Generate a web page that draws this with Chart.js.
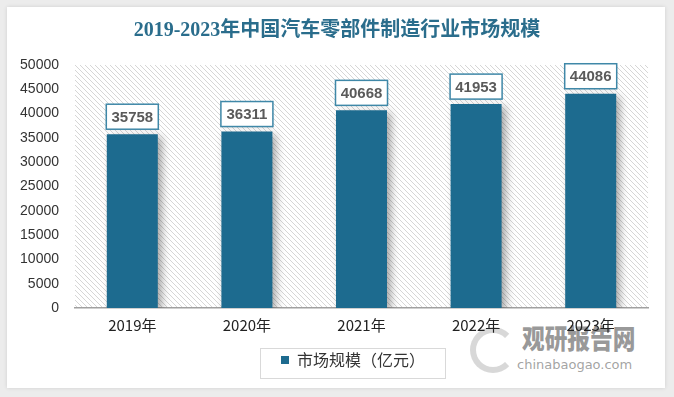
<!DOCTYPE html>
<html>
<head>
<meta charset="utf-8">
<script src="https://cdn.jsdelivr.net/npm/chart.js@4"></script>
<style>
    body { margin: 0; background: #ececec; }
    #wrap { position: relative; width: 674px; height: 397px; overflow: hidden; }
    #card { position: absolute; left: 7px; top: 7px; width: 658px; height: 381px; background: #fff;
            box-shadow: 0 0 4px rgba(0, 0, 0, 0.12); }
    #mark { position: absolute; left: 470px; top: 319px; color: rgba(120, 120, 120, 0.75);
            font-family: "Noto Sans CJK SC", sans-serif; }
    #mark .cn { position: absolute; left: 52px; top: 0; font-size: 27px; line-height: 38px; font-weight: 900; white-space: nowrap;
                transform: scaleX(0.84); transform-origin: left top; }
    #mark .en { position: absolute; left: 47px; top: 37px; font-size: 13px; line-height: 18px; white-space: nowrap;
                font-family: "DejaVu Sans", sans-serif; color: rgba(140, 140, 140, 0.8); }
    #mark .logo { position: absolute; left: 0; top: 8px; width: 34px; height: 34px; border-radius: 50%;
                  border: 6px solid rgba(190, 190, 190, 0.6); border-right-color: transparent; }
    canvas { position: absolute; left: 0; top: 0; }
</style>
</head>
<body>
<div id="wrap">
    <div id="card"></div>
    <div id="mark"><div class="logo"></div><div class="cn">观研报告网</div><div class="en">chinabaogao.com</div></div>
    <canvas id="chart" width="674" height="397"></canvas>
</div>
<script>
"use strict";

// Data
const years = ['2019年', '2020年', '2021年', '2022年', '2023年'];
const marketSize = [35758, 36311, 40668, 41953, 44086];
const yTicks = [0, 5000, 10000, 15000, 20000, 25000, 30000, 35000, 40000, 45000, 50000];

const barColor = '#1d6b8f';
const cjk = '"Noto Sans CJK SC", sans-serif';

// Diagonal hatch for the plot background
function makeHatch() {
    const c = document.createElement('canvas');
    c.width = 5;
    c.height = 5;
    const g = c.getContext('2d');
    g.fillStyle = '#ffffff';
    g.fillRect(0, 0, 5, 5);
    g.strokeStyle = '#d6d6d6';
    g.lineWidth = 1;
    g.beginPath();
    g.moveTo(-1, -1); g.lineTo(6, 6);
    g.moveTo(-1, 4); g.lineTo(1, 6);
    g.moveTo(4, -1); g.lineTo(6, 1);
    g.stroke();
    return g.createPattern(c, 'repeat');
}

const hatchBackground = {
    id: 'hatchBackground',
    beforeDraw(chart) {
        const a = chart.chartArea;
        const ctx = chart.ctx;
        ctx.save();
        ctx.fillStyle = makeHatch();
        ctx.fillRect(a.left, a.top, a.right - a.left, a.bottom - a.top);
        ctx.restore();
    }
};

// Soft shadow behind the bars
const barShadow = {
    id: 'barShadow',
    beforeDatasetDraw(chart) {
        const ctx = chart.ctx;
        ctx.save();
        ctx.shadowColor = 'rgba(0, 0, 0, 0.35)';
        ctx.shadowBlur = 8;
        ctx.shadowOffsetX = 4;
        ctx.shadowOffsetY = 3;
    },
    afterDatasetDraw(chart) {
        chart.ctx.restore();
    }
};

// Boxed value labels above each bar
const valueBoxes = {
    id: 'valueBoxes',
    afterDatasetsDraw(chart) {
        const ctx = chart.ctx;
        const meta = chart.getDatasetMeta(0);
        ctx.save();
        meta.data.forEach(function (bar, i) {
            const w = 52, h = 25;
            const x = bar.x - w / 2;
            const y = bar.y - 5 - h;
            ctx.shadowColor = 'rgba(0, 0, 0, 0.15)';
            ctx.shadowBlur = 3;
            ctx.shadowOffsetY = 1;
            ctx.fillStyle = '#ffffff';
            ctx.fillRect(x, y, w, h);
            ctx.shadowColor = 'transparent';
            ctx.strokeStyle = '#3f88a8';
            ctx.lineWidth = 1.5;
            ctx.strokeRect(x, y, w, h);
            ctx.fillStyle = '#5a5a5a';
            ctx.font = 'bold 15px "Liberation Sans", sans-serif';
            ctx.textAlign = 'center';
            ctx.textBaseline = 'middle';
            ctx.fillText(String(marketSize[i]), bar.x, y + h / 2 + 1);
        });
        ctx.restore();
    }
};

// The legend sits a little right of centre in the original; frame it
const legendFrame = {
    id: 'legendFrame',
    afterLayout(chart) {
        chart.legend.left += 16;
        chart.legend.right += 16;
    },
    afterDraw(chart) {
        const box = chart.legend.legendHitBoxes[0];
        if (!box) return;
        const ctx = chart.ctx;
        const left = Math.round(box.left) - 20.5;
        const right = Math.round(box.left + box.width) + 20.5;
        ctx.save();
        ctx.strokeStyle = '#d9d9d9';
        ctx.lineWidth = 1;
        ctx.strokeRect(left, 348.5, right - left, 30);
        ctx.restore();
    }
};

new Chart(document.getElementById('chart'), {
    type: 'bar',
    data: {
        labels: years,
        datasets: [{
            label: '市场规模（亿元）',
            data: marketSize,
            backgroundColor: barColor,
            borderWidth: 0,
            barPercentage: 0.445,
            categoryPercentage: 1
        }]
    },
    options: {
        responsive: false,
        animation: false,
        layout: { padding: { left: 10, right: 10, top: 0, bottom: 19 } },
        plugins: {
            title: {
                display: true,
                text: '2019-2023年中国汽车零部件制造行业市场规模',
                color: '#2a6d8c',
                font: { family: '"Liberation Serif", "Noto Sans CJK SC", serif', size: 20, weight: 'bold' },
                padding: { top: 19, bottom: 22 }
            },
            legend: {
                position: 'bottom',
                labels: {
                    boxWidth: 8,
                    boxHeight: 8,
                    color: '#333333',
                    font: { family: cjk, size: 16 },
                    padding: 10
                }
            },
            tooltip: { enabled: false }
        },
        scales: {
            x: {
                grid: { display: false, drawTicks: false },
                border: { color: '#a0a0a0', width: 1.5 },
                ticks: { color: '#222222', font: { family: cjk, size: 15 }, padding: 8 }
            },
            y: {
                min: 0,
                max: 50000,
                afterBuildTicks(scale) {
                    scale.ticks = yTicks.map(function (v) { return { value: v }; });
                },
                afterFit(scale) { scale.width = 65; },
                grid: { display: false, drawTicks: false },
                border: { display: false },
                ticks: {
                    color: '#333333',
                    font: { family: '"Liberation Sans", sans-serif', size: 14 },
                    padding: 16,
                    callback: function (v) { return String(v); }
                }
            },
            // empty right axis, only keeps the same margin as the left one so the title stays centred
            yRight: {
                position: 'right',
                min: 0,
                max: 50000,
                afterFit(scale) { scale.width = 16; },
                grid: { display: false, drawTicks: false },
                border: { display: false },
                ticks: { display: false }
            }
        }
    },
    plugins: [hatchBackground, barShadow, valueBoxes, legendFrame]
});
</script>
</body>
</html>
